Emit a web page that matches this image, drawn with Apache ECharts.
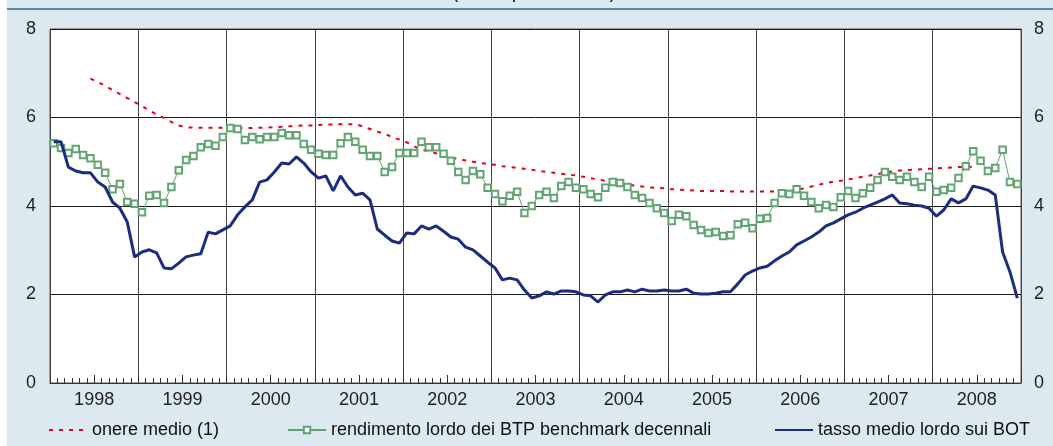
<!DOCTYPE html>
<html>
<head>
<meta charset="utf-8">
<script src="https://cdn.jsdelivr.net/npm/echarts@6/dist/echarts.min.js"></script>
<style>
html,body{margin:0;padding:0;background:#dde9f1;}
#chart{width:1053px;height:446px;}
</style>
</head>
<body>
<div id="chart"></div>
<script>
// ---- data ----
const years = ['1998','1999','2000','2001','2002','2003','2004','2005','2006','2007','2008'];
const months = ['gen','feb','mar','apr','mag','giu','lug','ago','set','ott','nov','dic'];
const yTicks = [0, 2, 4, 6, 8];
const seriesNames = ['onere medio (1)', 'rendimento lordo dei BTP benchmark decennali', 'tasso medio lordo sui BOT'];
const titleText = '(valori percentuali)';

// onere medio (1): monthly, Jun 1998 - Jun 2008
const onere = [null,null,null,null,null,
  6.88,6.80,6.72,6.62,6.53,6.44,6.35,6.26,6.16,6.07,
  5.99,5.90,5.82,5.78,5.77,5.77,5.77,5.77,5.77,5.76,
  5.76,5.76,5.76,5.77,5.77,5.78,5.79,5.80,5.81,5.82,
  5.82,5.83,5.84,5.84,5.85,5.85,5.85,5.80,5.74,5.68,
  5.63,5.56,5.50,5.44,5.35,5.28,5.23,5.19,5.15,5.10,
  5.06,5.03,5.00,4.97,4.95,4.93,4.90,4.88,4.86,4.84,
  4.82,4.79,4.77,4.75,4.73,4.71,4.69,4.66,4.63,4.60,
  4.57,4.54,4.51,4.48,4.46,4.44,4.42,4.41,4.40,4.38,
  4.37,4.36,4.35,4.34,4.34,4.34,4.34,4.33,4.33,4.33,
  4.33,4.33,4.33,4.33,4.33,4.34,4.36,4.40,4.44,4.48,
  4.52,4.55,4.57,4.60,4.63,4.66,4.69,4.72,4.76,4.78,
  4.80,4.81,4.82,4.83,4.84,4.85,4.86,4.87,4.88,4.88,
  4.89,null,null,null,null,null,null];

// rendimento lordo dei BTP benchmark decennali: monthly 1998-2008
const btp = [
  5.42,5.31,5.20,5.29,5.15,5.08,4.93,4.75,4.38,4.50,4.09,4.05,
  3.86,4.23,4.25,4.07,4.43,4.81,5.04,5.13,5.33,5.40,5.36,5.56,
  5.76,5.74,5.49,5.56,5.51,5.56,5.56,5.65,5.60,5.60,5.40,5.27,
  5.18,5.15,5.15,5.42,5.56,5.45,5.27,5.13,5.13,4.77,4.88,5.20,
  5.20,5.20,5.45,5.33,5.33,5.18,5.02,4.77,4.59,4.79,4.72,4.41,
  4.27,4.11,4.23,4.32,3.84,4.00,4.25,4.32,4.18,4.45,4.54,4.41,
  4.38,4.27,4.20,4.41,4.54,4.52,4.43,4.25,4.18,4.07,3.95,3.84,
  3.66,3.80,3.77,3.57,3.46,3.39,3.41,3.32,3.34,3.59,3.62,3.50,
  3.71,3.73,4.07,4.29,4.27,4.38,4.23,4.09,3.95,4.02,3.98,4.20,
  4.34,4.18,4.29,4.41,4.59,4.77,4.66,4.59,4.66,4.54,4.43,4.66,
  4.32,4.36,4.41,4.63,4.90,5.24,5.02,4.79,4.86,5.27,4.54,4.50];

// tasso medio lordo sui BOT: monthly 1998-2008
const bot = [
  5.45,5.45,4.88,4.79,4.75,4.75,4.54,4.43,4.09,3.95,3.64,2.85,
  2.96,3.01,2.94,2.60,2.58,2.71,2.85,2.89,2.92,3.41,3.37,3.46,
  3.55,3.80,3.98,4.14,4.54,4.59,4.77,4.97,4.95,5.11,4.97,4.77,
  4.63,4.68,4.34,4.68,4.43,4.25,4.29,4.14,3.48,3.34,3.21,3.16,
  3.39,3.37,3.55,3.48,3.55,3.43,3.30,3.25,3.07,3.01,2.87,2.73,
  2.60,2.33,2.37,2.33,2.10,1.92,1.97,2.06,2.01,2.08,2.08,2.06,
  1.99,1.97,1.83,1.99,2.06,2.06,2.10,2.06,2.12,2.08,2.08,2.10,
  2.08,2.08,2.12,2.03,2.01,2.01,2.03,2.06,2.06,2.24,2.44,2.53,
  2.60,2.64,2.76,2.87,2.96,3.12,3.21,3.30,3.41,3.55,3.62,3.71,
  3.80,3.86,3.95,4.02,4.09,4.16,4.25,4.07,4.05,4.02,4.00,3.95,
  3.77,3.91,4.16,4.07,4.16,4.45,4.41,4.36,4.25,2.96,2.51,1.92];

// ---- chart ----
const categories = [];
years.forEach(y => months.forEach(m => categories.push(m + ' ' + y)));
const nMonths = categories.length;

const FONT = '"Liberation Sans", Arial, Helvetica, sans-serif';
const FS = 18;
const RED = '#e3001b', GREEN = '#62a573', BLUE = '#1b2d82';

const chart = echarts.init(document.getElementById('chart'), null, {renderer: 'canvas'});
const legendBase = {
  orient: 'horizontal', top: 421, itemWidth: 38, itemHeight: 12, itemGap: 5, padding: 0,
  textStyle: {fontFamily: FONT, fontSize: FS, color: '#111'},
  selectedMode: false
};
chart.setOption({
  animation: false,
  backgroundColor: '#dde9f1',
  textStyle: {fontFamily: FONT},
  grid: {left: 50, right: 32, top: 29, bottom: 63, show: true, backgroundColor: '#ffffff', borderColor: '#555', borderWidth: 1},
  legend: [
    Object.assign({}, legendBase, {left: 48, data: [seriesNames[0]], itemStyle: {opacity: 0}}),
    Object.assign({}, legendBase, {left: 287, itemHeight: 8, data: [seriesNames[1]]}),
    Object.assign({}, legendBase, {left: 774, data: [seriesNames[2]], itemStyle: {opacity: 0}})
  ],
  graphic: [
    {type: 'rect', left: 0, top: 0, shape: {x: 0, y: 0, width: 7, height: 446}, style: {fill: '#ffffff'}, silent: true},
    {type: 'line', shape: {x1: 7, y1: 9, x2: 1053, y2: 9}, style: {stroke: '#2b6d8d', lineWidth: 1.5}, silent: true},
    {type: 'text', x: 534, y: -18, style: {text: titleText, fontFamily: FONT, fontSize: 20, fill: '#222', align: 'center', verticalAlign: 'top'}, silent: true}
  ],
  xAxis: [
    {
      type: 'category', data: categories, boundaryGap: true, position: 'bottom',
      axisLine: {show: true, lineStyle: {color: '#333', width: 1}},
      axisTick: {show: true, inside: true, length: 5, interval: 0, lineStyle: {color: '#333'}},
      axisLabel: {show: false},
      splitLine: {show: true, interval: function (i) { return i % 12 === 0; }, lineStyle: {color: '#444', width: 1}}
    },
    {
      type: 'value', min: 0, max: nMonths, interval: 6, position: 'bottom',
      axisLine: {show: false},
      axisTick: {show: true, inside: true, length: 8, lineStyle: {color: '#333'}},
      splitLine: {show: false},
      axisLabel: {
        show: true, margin: 8, fontSize: FS, color: '#222', fontFamily: FONT,
        formatter: function (v) { return (v % 12 === 6) ? years[(v - 6) / 12] : ''; }
      }
    }
  ],
  yAxis: [
    {
      type: 'value', min: yTicks[0], max: yTicks[yTicks.length - 1], interval: yTicks[1] - yTicks[0], position: 'left',
      axisLine: {show: false}, axisTick: {show: false},
      axisLabel: {fontSize: FS, color: '#222', margin: 14, fontFamily: FONT},
      splitLine: {show: true, lineStyle: {color: '#1a1a1a', width: 1}}
    },
    {
      type: 'value', min: yTicks[0], max: yTicks[yTicks.length - 1], interval: yTicks[1] - yTicks[0], position: 'right',
      axisLine: {show: false}, axisTick: {show: false},
      axisLabel: {fontSize: FS, color: '#222', margin: 13, fontFamily: FONT},
      splitLine: {show: false}
    }
  ],
  series: [
    {
      name: seriesNames[0], type: 'line', data: onere, xAxisIndex: 0, yAxisIndex: 0,
      symbol: 'none', connectNulls: false, z: 3,
      lineStyle: {color: RED, width: 2, type: [4, 6]},
      itemStyle: {color: RED}
    },
    {
      name: seriesNames[1], type: 'line', data: btp, xAxisIndex: 0, yAxisIndex: 0,
      symbol: 'emptyRect', symbolSize: 6.5, showSymbol: true, showAllSymbol: true, z: 4,
      lineStyle: {color: GREEN, width: 1},
      itemStyle: {color: GREEN, borderColor: GREEN, borderWidth: 1}
    },
    {
      name: seriesNames[2], type: 'line', data: bot, xAxisIndex: 0, yAxisIndex: 0,
      symbol: 'none', z: 5,
      lineStyle: {color: BLUE, width: 3},
      itemStyle: {color: BLUE}
    }
  ]
});
</script>
</body>
</html>
